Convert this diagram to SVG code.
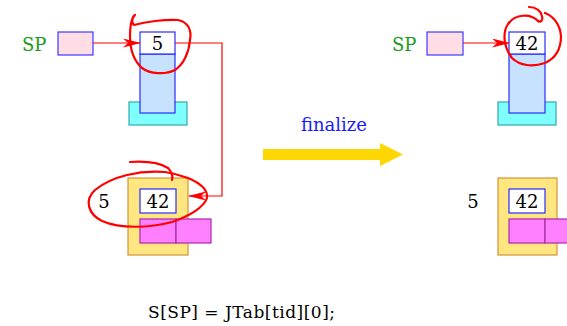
<svg xmlns="http://www.w3.org/2000/svg" width="567" height="326" viewBox="0 0 567 326">
  <defs>
    <style>
      .tx { font-family: "DejaVu Serif", "Liberation Serif", serif; }
      .sp { fill: #1a991a; font-size: 18px; }
      .num { fill: #000; font-size: 18px; }
      .spbox { fill: #ffdde4; stroke: #3a3aff; stroke-width: 1.2; }
      .cell { fill: #fff; stroke: #2a2aff; stroke-width: 1.2; }
      .col { fill: #c6e2ff; stroke: #2a2aff; stroke-width: 1.2; }
      .base { fill: #80ffff; stroke: #33aaaa; stroke-width: 1.2; }
      .frame { fill: #ffe680; stroke: #d4943a; stroke-width: 1.2; }
      .mag { fill: #ff80ff; stroke: #aa2aaa; stroke-width: 1.2; }
      .wire { fill: none; stroke: #ff0000; stroke-width: 1.2; }
      .ink { fill: none; stroke: #ff0000; stroke-width: 2.2; stroke-linecap: round; stroke-linejoin: round; }
    </style>
    <marker id="head" markerWidth="18" markerHeight="9" refX="17" refY="4.5" orient="auto" markerUnits="userSpaceOnUse">
      <path d="M0,0 L18,4.5 L0,9 L5,4.5 Z" fill="#ff0000"/>
    </marker>
  </defs>

  <!-- left state: stack -->
  <g id="sp-left">
    <text class="tx sp" x="22" y="51">SP</text>
    <rect class="spbox" x="58" y="32" width="35" height="23"/>
  </g>
  <g id="stack-left">
    <rect class="base" x="129" y="102" width="58" height="23"/>
    <rect class="col" x="140" y="54" width="35" height="59"/>
    <rect class="cell" x="140" y="32" width="35" height="22"/>
    <text class="tx num" x="157.5" y="50" text-anchor="middle">5</text>
  </g>

  <!-- left state: frame -->
  <g id="frame-left">
    <rect class="frame" x="128" y="178" width="60" height="77"/>
    <rect class="cell" x="140" y="189" width="36" height="24"/>
    <text class="tx num" x="158" y="208" text-anchor="middle">42</text>
    <rect class="mag" x="140" y="219" width="36" height="24"/>
    <rect class="mag" x="176" y="219" width="35" height="24"/>
    <text class="tx num" x="104" y="208" text-anchor="middle">5</text>
  </g>

  <!-- right state: stack -->
  <g id="sp-right">
    <text class="tx sp" x="392" y="51">SP</text>
    <rect class="spbox" x="427" y="32" width="36" height="23"/>
  </g>
  <g id="stack-right">
    <rect class="base" x="498" y="102" width="58" height="23"/>
    <rect class="col" x="509" y="54" width="36" height="59"/>
    <rect class="cell" x="509" y="32" width="36" height="22"/>
    <text class="tx num" x="527" y="50" text-anchor="middle">42</text>
  </g>

  <!-- right state: frame -->
  <g id="frame-right">
    <rect class="frame" x="498" y="178" width="59" height="77"/>
    <rect class="cell" x="509" y="189" width="36" height="24"/>
    <text class="tx num" x="527" y="208" text-anchor="middle">42</text>
    <rect class="mag" x="509" y="219" width="36" height="24"/>
    <rect class="mag" x="545" y="219" width="36" height="24"/>
    <text class="tx num" x="473" y="208" text-anchor="middle">5</text>
  </g>

  <!-- transition -->
  <g id="finalize">
    <text class="tx" x="334" y="131" text-anchor="middle" font-size="18" fill="#1a1aff">finalize</text>
    <path d="M263,149 H380 V143 L403,154.5 L380,166 V160 H263 Z" fill="#ffd700"/>
  </g>

  <!-- connectors -->
  <g id="connectors">
    <line class="wire" x1="93" y1="43" x2="140" y2="43" marker-end="url(#head)"/>
    <path class="wire" d="M175,43 H222 V196 H189" marker-end="url(#head)"/>
    <line class="wire" x1="463" y1="43" x2="509" y2="43" marker-end="url(#head)"/>
  </g>

  <!-- hand-drawn marks -->
  <g id="marks">
    <path class="ink" d="M135,15 C131,18 132,23 134,25 C145,22 165,19 178,20 C188,22 192,30 190,40 C189,52 184,64 175,70 C165,75 150,74 142,68 C133,60 130,48 130,36 C130,28 131,20 134,16"/>
    <path class="ink" d="M130,162 C145,161 160,163 168,168 C172,172 173,176 172,180"/>
    <path class="ink" d="M165,172 C140,170 112,176 95,190 C84,200 88,214 102,221 C120,229 150,228 172,222 C190,216 204,207 207,198 C208,190 200,183 188,178 C180,175 172,173 165,172"/>
    <path class="ink" d="M529,7 C536,7 541,11 542,16 C543,20 541,23 538,21 C530,13 515,14 508,24 C502,33 504,48 512,58 C520,66 533,67 545,63 C556,58 561,48 561,36 C560,24 553,16 545,13"/>
  </g>

  <text class="tx" x="148" y="318" font-size="17" fill="#000" textLength="187" lengthAdjust="spacing">S[SP] = JTab[tid][0];</text>
</svg>
